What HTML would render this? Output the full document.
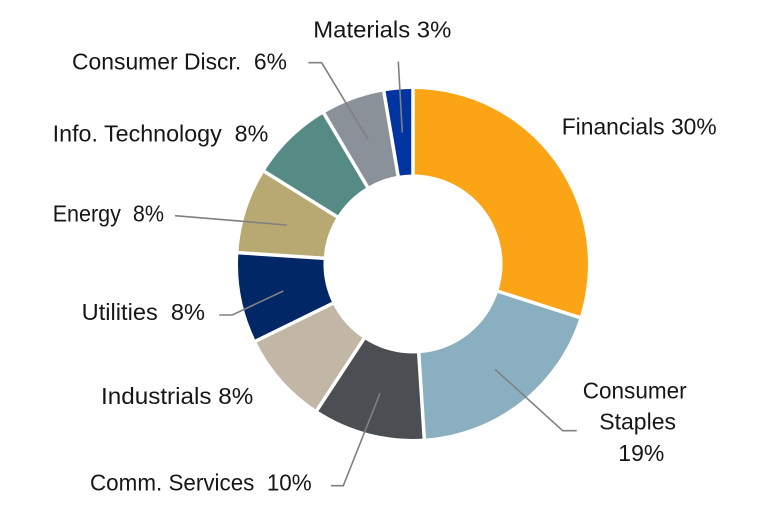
<!DOCTYPE html>
<html>
<head>
<meta charset="utf-8">
<style>
  html, body { margin:0; padding:0; background:#ffffff; }
  svg { display:block; }
  text { font-family: "Liberation Sans", "DejaVu Sans", sans-serif; font-size:23px; fill:#161616; white-space:pre; }
</style>
</head>
<body>
<svg width="778" height="518" viewBox="0 0 778 518" xmlns="http://www.w3.org/2000/svg">
  <rect width="778" height="518" fill="#ffffff"/>
  <!-- slices -->
  <path d="M413,89 A175,175 0 0 1 579.6,317.5 L498.2,291.4 A89.5,89.5 0 0 0 413,174.5 Z" fill="#FBA415"/>
  <path d="M579.6,317.5 A175,175 0 0 1 424.3,438.6 L418.8,353.3 A89.5,89.5 0 0 0 498.2,291.4 Z" fill="#8AAFC0"/>
  <path d="M424.3,438.6 A175,175 0 0 1 316.9,410.3 L363.9,338.8 A89.5,89.5 0 0 0 418.8,353.3 Z" fill="#4B4F54"/>
  <path d="M316.9,410.3 A175,175 0 0 1 255.8,341.0 L332.6,303.4 A89.5,89.5 0 0 0 363.9,338.8 Z" fill="#C2B6A7"/>
  <path d="M255.8,341.0 A175,175 0 0 1 238.4,252.7 L323.7,258.2 A89.5,89.5 0 0 0 332.6,303.4 Z" fill="#012766"/>
  <path d="M238.4,252.7 A175,175 0 0 1 264.4,171.5 L337.0,216.7 A89.5,89.5 0 0 0 323.7,258.2 Z" fill="#B8A973"/>
  <path d="M264.4,171.5 A175,175 0 0 1 323.9,113.4 L367.4,187.0 A89.5,89.5 0 0 0 337.0,216.7 Z" fill="#568A85"/>
  <path d="M323.9,113.4 A175,175 0 0 1 383.8,91.4 L398.1,175.8 A89.5,89.5 0 0 0 367.4,187.0 Z" fill="#8A9199"/>
  <path d="M383.8,91.4 A175,175 0 0 1 413,89 L413,174.5 A89.5,89.5 0 0 0 398.1,175.8 Z" fill="#0034A0"/>
  <!-- separators -->
  <g stroke="#ffffff" stroke-width="3.5">
    <line x1="413" y1="264" x2="413" y2="84"/>
    <line x1="413" y1="264" x2="584.4" y2="319.0"/>
    <line x1="413" y1="264" x2="424.6" y2="443.6"/>
    <line x1="413" y1="264" x2="314.2" y2="414.4"/>
    <line x1="413" y1="264" x2="251.4" y2="343.2"/>
    <line x1="413" y1="264" x2="233.4" y2="252.4"/>
    <line x1="413" y1="264" x2="260.2" y2="168.9"/>
    <line x1="413" y1="264" x2="321.4" y2="109.1"/>
    <line x1="413" y1="264" x2="383.0" y2="86.5"/>
  </g>
  <!-- leader lines -->
  <g stroke="#808080" stroke-width="1.6" fill="none">
    <polyline points="398.3,61.7 402.3,132.7"/>
    <polyline points="308.3,62.7 321.7,62.7 368.3,140"/>
    <polyline points="175,215.7 286.7,225"/>
    <polyline points="219.3,315 232.3,315 283.3,291"/>
    <polyline points="331,485.7 343.3,485.7 380,393.3"/>
    <polyline points="576.7,430.7 562.7,430.7 495,369.3"/>
  </g>
  <!-- labels -->
  <text x="313.3" y="37.3" textLength="138" lengthAdjust="spacingAndGlyphs">Materials 3%</text>
  <text x="72" y="69.3" textLength="215" lengthAdjust="spacingAndGlyphs">Consumer Discr.  6%</text>
  <text x="52.7" y="141.7" textLength="215.6" lengthAdjust="spacingAndGlyphs">Info. Technology  8%</text>
  <text x="52.7" y="221.7" textLength="111.3" lengthAdjust="spacingAndGlyphs">Energy  8%</text>
  <text x="81.7" y="320" textLength="123.3" lengthAdjust="spacingAndGlyphs">Utilities  8%</text>
  <text x="101" y="404" textLength="152.3" lengthAdjust="spacingAndGlyphs">Industrials 8%</text>
  <text x="90" y="490.7" textLength="221.7" lengthAdjust="spacingAndGlyphs">Comm. Services  10%</text>
  <text x="561.7" y="134.3" textLength="155" lengthAdjust="spacingAndGlyphs">Financials 30%</text>
  <text x="582.7" y="398.3" textLength="104" lengthAdjust="spacingAndGlyphs">Consumer</text>
  <text x="599.3" y="429.3" textLength="76.7" lengthAdjust="spacingAndGlyphs">Staples</text>
  <text x="618.3" y="461" textLength="46" lengthAdjust="spacingAndGlyphs">19%</text>
</svg>
</body>
</html>
